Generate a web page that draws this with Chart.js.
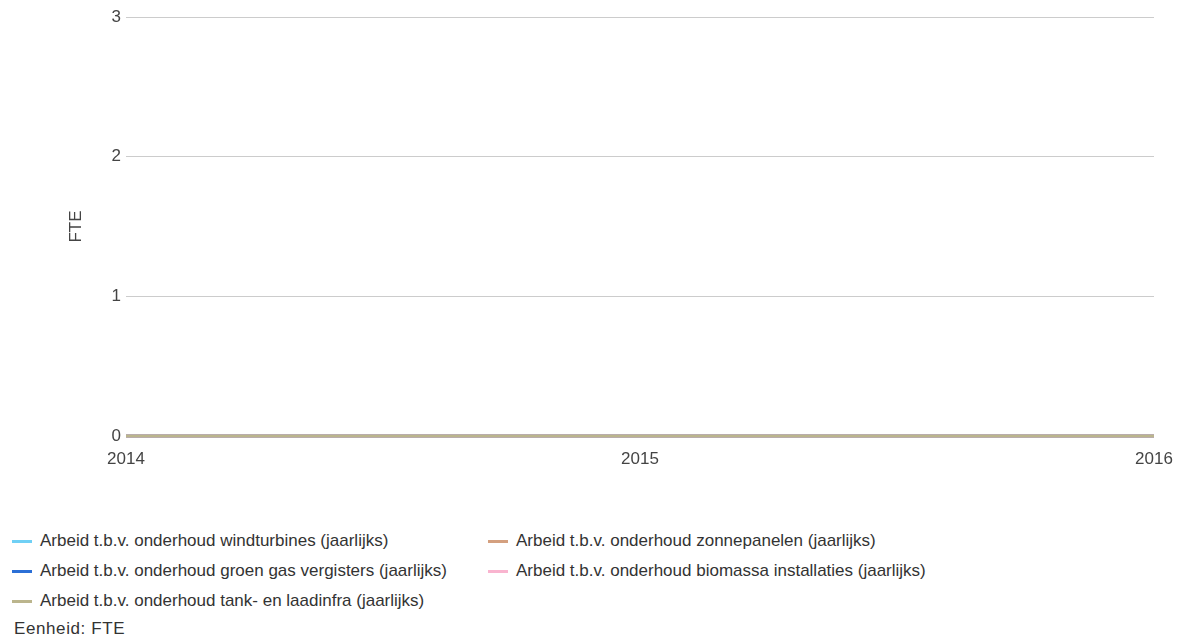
<!DOCTYPE html>
<html>
<head>
<meta charset="utf-8">
<script src="https://cdn.jsdelivr.net/npm/chart.js@4/dist/chart.umd.min.js"></script>
<style>
  html, body { margin: 0; padding: 0; background: #fff; }
  body { width: 1182px; height: 642px; position: relative; overflow: hidden;
         font-family: "Liberation Sans", Arial, sans-serif; }
  #wrap { position: absolute; left: 0; top: 0; width: 1182px; height: 490px; }
  .legend { position: absolute; font-size: 17px; color: #333; }
  .item { position: absolute; white-space: nowrap; line-height: 20px; }
  .swatch { position: absolute; left: 0; top: 9px; width: 20px; height: 3px; }
  .label { position: absolute; left: 28px; top: 0; }
  #unit { position: absolute; left: 14px; top: 619px; font-size: 17px; line-height: 20px;
          color: #333; letter-spacing: 0.6px; }
</style>
</head>
<body>
<div id="wrap"><canvas id="chart" width="1182" height="490"></canvas></div>
<div id="legend" class="legend"></div>
<div id="unit">Eenheid: FTE</div>
<script>
// Years on the horizontal axis
const years = ['2014', '2015', '2016'];

// Yearly maintenance labour per installation type (FTE)
const windturbines = [0, 0, 0];
const zonnepanelen = [0, 0, 0];
const groenGas = [0, 0, 0];
const biomassa = [0, 0, 0];
const tankLaadinfra = [0, 0, 0];

const seriesNames = [
  'Arbeid t.b.v. onderhoud windturbines (jaarlijks)',
  'Arbeid t.b.v. onderhoud zonnepanelen (jaarlijks)',
  'Arbeid t.b.v. onderhoud groen gas vergisters (jaarlijks)',
  'Arbeid t.b.v. onderhoud biomassa installaties (jaarlijks)',
  'Arbeid t.b.v. onderhoud tank- en laadinfra (jaarlijks)'
];
const seriesValues = [windturbines, zonnepanelen, groenGas, biomassa, tankLaadinfra];
const seriesColors = ['#70d0f5', '#d4a07f', '#2b6fd6', '#f9b4cf', '#bbb58d'];

const yTicks = [0, 1, 2, 3];

// later series are painted over earlier ones
const datasets = seriesNames.map((name, i) => ({
  label: name,
  data: seriesValues[i],
  borderColor: seriesColors[i],
  backgroundColor: seriesColors[i],
  borderWidth: 3,
  pointRadius: 0,
  pointHoverRadius: 0,
  fill: false,
  tension: 0,
  clip: false,
  order: seriesNames.length - 1 - i
}));

const tickFont = { family: 'Liberation Sans', size: 17 };

new Chart(document.getElementById('chart'), {
  type: 'line',
  data: { labels: years, datasets },
  options: {
    responsive: false,
    animation: false,
    layout: { padding: { top: 17, right: 28, bottom: 0, left: 0 } },
    plugins: { legend: { display: false }, tooltip: { enabled: false } },
    scales: {
      x: {
        offset: false,
        grid: { display: false, drawTicks: false },
        border: { display: false },
        ticks: { color: '#444', padding: 13, maxRotation: 0, autoSkip: false, font: tickFont },
        afterFit: s => { s.height = 54; s.paddingRight = 0; }
      },
      y: {
        min: yTicks[0],
        max: yTicks[yTicks.length - 1],
        afterBuildTicks: s => { s.ticks = yTicks.map(v => ({ value: v })); },
        grid: { color: '#cccccc', lineWidth: 1, drawTicks: false },
        border: { display: false },
        ticks: { color: '#444', padding: 5, font: tickFont },
        title: { display: true, text: 'FTE', color: '#444', font: tickFont,
                 padding: { top: 66, bottom: 0 } },
        afterFit: s => { s.width = 126; }
      }
    }
  }
});

// Two-column legend beneath the plot
const legend = document.getElementById('legend');
const colX = [12, 488];
const rowY = [531, 561, 591];
seriesNames.forEach((name, i) => {
  const item = document.createElement('div');
  item.className = 'item';
  item.style.left = colX[i % 2] + 'px';
  item.style.top = rowY[Math.floor(i / 2)] + 'px';
  const sw = document.createElement('span');
  sw.className = 'swatch';
  sw.style.background = seriesColors[i];
  const lb = document.createElement('span');
  lb.className = 'label';
  lb.textContent = name;
  item.appendChild(sw);
  item.appendChild(lb);
  legend.appendChild(item);
});
</script>
</body>
</html>
